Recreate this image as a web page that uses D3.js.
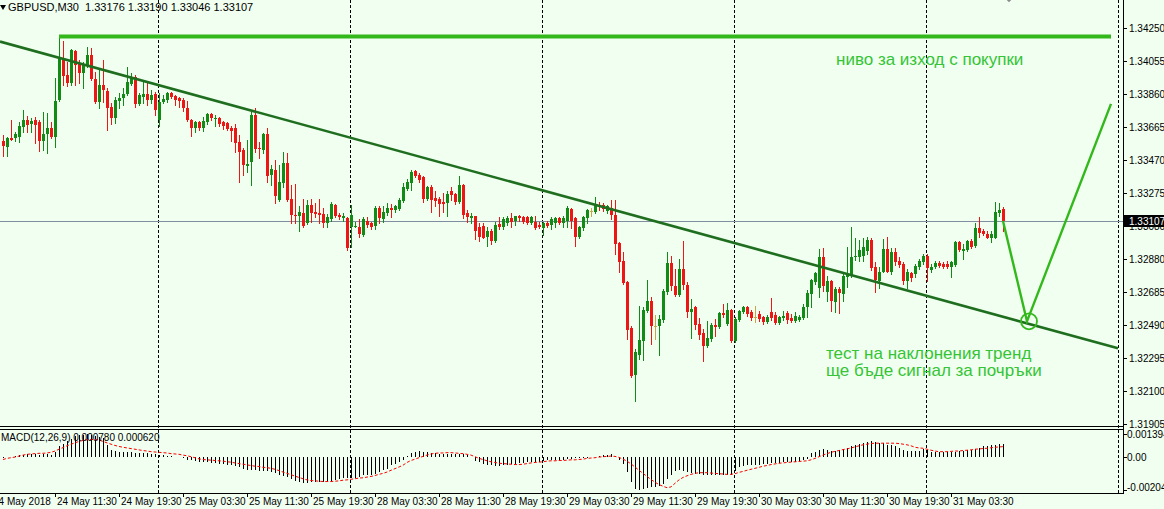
<!DOCTYPE html>
<html>
<head>
<meta charset="utf-8">
<script src="https://cdn.jsdelivr.net/npm/d3@7"></script>
<style>
html, body { margin: 0; padding: 0; background: #f0fff0; }
svg { display: block; font-family: "Liberation Sans", Arial, sans-serif; }
</style>
</head>
<body>
<svg id="chart" width="1164" height="509"></svg>
<script>
////////////////////////////////////////////////////////////////////////////////////
// Data - GBPUSD M30, one row of 10 bars per line
var symbolTitle = "GBPUSD,M30";
var opens = [
  1.33583,1.33547,1.33600,1.33600,1.33606,1.33665,1.33707,1.33683,1.33707,1.33695,
  1.33583,1.33624,1.33660,1.33606,1.33825,1.34073,1.33973,1.33925,1.34115,1.34038,
  1.33985,1.34032,1.34091,1.33949,1.33813,1.33914,1.33878,1.33784,1.33719,1.33819,
  1.33837,1.33860,1.33920,1.33961,1.33801,1.33843,1.33860,1.33825,1.33860,1.33707,
  1.33813,1.33825,1.33866,1.33849,1.33837,1.33825,1.33778,1.33707,1.33660,1.33695,
  1.33660,1.33695,1.33742,1.33713,1.33719,1.33695,1.33689,1.33660,1.33660,1.33577,
  1.33530,1.33435,1.33459,1.33736,1.33541,1.33530,1.33624,1.33382,1.33411,1.33234,
  1.33334,1.33453,1.33240,1.33145,1.33134,1.33157,1.33098,1.33204,1.33163,1.33157,
  1.33151,1.33098,1.33116,1.33204,1.33145,1.33122,1.33122,1.33074,1.33074,1.33074,
  1.33027,1.33110,1.33098,1.33080,1.33187,1.33116,1.33157,1.33187,1.33175,1.33181,
  1.33228,1.33299,1.33334,1.33405,1.33382,1.33370,1.33240,1.33311,1.33246,1.33240,
  1.33222,1.33216,1.33287,1.33269,1.33222,1.33323,1.33157,1.33122,1.33134,1.33074,
  1.33080,1.33015,1.33045,1.32986,1.33092,1.33074,1.33098,1.33122,1.33110,1.33139,
  1.33128,1.33128,1.33098,1.33104,1.33086,1.33063,1.33098,1.33086,1.33098,1.33122,
  1.33098,1.33110,1.33181,1.33122,1.33015,1.33063,1.33122,1.33169,1.33163,1.33204,
  1.33204,1.33169,1.33187,1.33145,1.32974,1.32873,1.32743,1.32472,1.32194,1.32312,
  1.32395,1.32572,1.32631,1.32486,1.32483,1.32519,1.32684,1.32856,1.32720,1.32667,
  1.32820,1.32726,1.32566,1.32596,1.32495,1.32442,1.32365,1.32407,1.32489,1.32478,
  1.32560,1.32495,1.32578,1.32395,1.32519,1.32566,1.32596,1.32566,1.32540,1.32554,
  1.32537,1.32507,1.32566,1.32548,1.32501,1.32531,1.32560,1.32531,1.32513,1.32519,
  1.32531,1.32596,1.32673,1.32743,1.32708,1.32891,1.32684,1.32749,1.32625,1.32702,
  1.32673,1.32773,1.32779,1.32891,1.32891,1.32897,1.32927,1.32992,1.32832,1.32749,
  1.32808,1.32944,1.32808,1.32921,1.32873,1.32850,1.32749,1.32797,1.32791,1.32832,
  1.32862,1.32897,1.32814,1.32832,1.32856,1.32850,1.32850,1.32832,1.32844,1.32980,
  1.32927,1.32938,1.32986,1.32962,1.33063,1.33045,1.33033,1.33009,1.33009,1.33157,
  1.33176];
var highs = [
  1.33618,1.33606,1.33707,1.33636,1.33695,1.33766,1.33730,1.33719,1.33725,1.33707,
  1.33754,1.33748,1.33695,1.33955,1.34210,1.34174,1.34050,1.34126,1.34120,1.34061,
  1.34050,1.34138,1.34132,1.33990,1.34014,1.34061,1.33896,1.33807,1.33843,1.33866,
  1.33896,1.34020,1.33985,1.33973,1.33866,1.33931,1.33925,1.33884,1.33872,1.33866,
  1.33855,1.33872,1.33872,1.33855,1.33843,1.33837,1.33819,1.33713,1.33701,1.33701,
  1.33725,1.33748,1.33748,1.33736,1.33725,1.33701,1.33695,1.33671,1.33683,1.33618,
  1.33541,1.33589,1.33754,1.33778,1.33577,1.33630,1.33660,1.33441,1.33470,1.33441,
  1.33518,1.33512,1.33323,1.33329,1.33193,1.33240,1.33234,1.33240,1.33216,1.33240,
  1.33187,1.33151,1.33222,1.33210,1.33157,1.33157,1.33128,1.33199,1.33104,1.33116,
  1.33128,1.33128,1.33104,1.33193,1.33193,1.33193,1.33216,1.33210,1.33199,1.33246,
  1.33334,1.33358,1.33411,1.33411,1.33394,1.33376,1.33317,1.33323,1.33287,1.33252,
  1.33275,1.33287,1.33311,1.33275,1.33376,1.33329,1.33175,1.33157,1.33139,1.33098,
  1.33098,1.33069,1.33057,1.33104,1.33128,1.33128,1.33134,1.33157,1.33139,1.33145,
  1.33134,1.33134,1.33134,1.33134,1.33104,1.33104,1.33110,1.33128,1.33128,1.33128,
  1.33139,1.33193,1.33187,1.33128,1.33080,1.33134,1.33181,1.33187,1.33252,1.33222,
  1.33216,1.33204,1.33234,1.33234,1.32980,1.32921,1.32749,1.32483,1.32348,1.32602,
  1.32596,1.32755,1.32655,1.32548,1.32548,1.32702,1.32921,1.32897,1.32820,1.32885,
  1.32986,1.32743,1.32643,1.32602,1.32531,1.32466,1.32513,1.32501,1.32525,1.32566,
  1.32613,1.32619,1.32584,1.32537,1.32578,1.32602,1.32602,1.32578,1.32602,1.32572,
  1.32543,1.32548,1.32649,1.32566,1.32543,1.32572,1.32572,1.32554,1.32566,1.32548,
  1.32613,1.32696,1.32761,1.32808,1.32944,1.32950,1.32779,1.32755,1.32714,1.32714,
  1.32797,1.32956,1.33069,1.33009,1.32992,1.33009,1.33015,1.33009,1.32862,1.32832,
  1.32998,1.33015,1.32950,1.32950,1.32891,1.32862,1.32820,1.32808,1.32850,1.32885,
  1.32909,1.32909,1.32850,1.32873,1.32868,1.32862,1.32873,1.32873,1.32986,1.32986,
  1.32968,1.32992,1.32998,1.33098,1.33128,1.33057,1.33045,1.33045,1.33222,1.33216,
  1.33190];
var lows = [
  1.33494,1.33494,1.33589,1.33583,1.33577,1.33636,1.33636,1.33636,1.33571,1.33524,
  1.33530,1.33512,1.33600,1.33547,1.33820,1.33914,1.33908,1.33914,1.33914,1.33925,
  1.33896,1.34020,1.33943,1.33807,1.33778,1.33813,1.33648,1.33683,1.33689,1.33778,
  1.33795,1.33855,1.33914,1.33784,1.33795,1.33807,1.33795,1.33807,1.33736,1.33671,
  1.33807,1.33813,1.33837,1.33795,1.33784,1.33760,1.33701,1.33612,1.33636,1.33648,
  1.33642,1.33683,1.33707,1.33671,1.33671,1.33654,1.33648,1.33583,1.33518,1.33340,
  1.33382,1.33400,1.33323,1.33518,1.33482,1.33512,1.33340,1.33323,1.33216,1.33228,
  1.33311,1.33228,1.33098,1.33098,1.33045,1.33069,1.33092,1.33104,1.33128,1.33098,
  1.33069,1.33069,1.33110,1.33130,1.33116,1.33110,1.32938,1.32956,1.33069,1.33015,
  1.33021,1.33074,1.33057,1.33057,1.33098,1.33104,1.33145,1.33128,1.33163,1.33175,
  1.33222,1.33293,1.33293,1.33370,1.33340,1.33222,1.33234,1.33163,1.33193,1.33139,
  1.33163,1.33134,1.33234,1.33210,1.33216,1.33122,1.33104,1.33098,1.32998,1.32986,
  1.33004,1.32962,1.32968,1.32980,1.33057,1.33057,1.33086,1.33074,1.33086,1.33110,
  1.33098,1.33092,1.33092,1.33057,1.33063,1.33027,1.33074,1.33057,1.33074,1.33092,
  1.33074,1.33074,1.33063,1.32962,1.33004,1.33051,1.33098,1.33139,1.33157,1.33175,
  1.33169,1.33157,1.33116,1.32909,1.32803,1.32732,1.32407,1.32182,1.32040,1.32288,
  1.32283,1.32566,1.32377,1.32407,1.32312,1.32507,1.32673,1.32696,1.32661,1.32661,
  1.32702,1.32537,1.32413,1.32466,1.32407,1.32277,1.32359,1.32395,1.32424,1.32472,
  1.32537,1.32489,1.32389,1.32389,1.32513,1.32560,1.32543,1.32519,1.32507,1.32513,
  1.32495,1.32501,1.32519,1.32495,1.32495,1.32519,1.32501,1.32507,1.32507,1.32513,
  1.32525,1.32537,1.32596,1.32732,1.32655,1.32690,1.32631,1.32572,1.32566,1.32560,
  1.32631,1.32714,1.32773,1.32879,1.32868,1.32868,1.32909,1.32814,1.32684,1.32708,
  1.32803,1.32803,1.32791,1.32844,1.32832,1.32732,1.32708,1.32749,1.32773,1.32820,
  1.32850,1.32749,1.32808,1.32826,1.32832,1.32826,1.32826,1.32773,1.32838,1.32927,
  1.32885,1.32927,1.32950,1.32956,1.33015,1.33027,1.33004,1.32980,1.33004,1.33134,
  1.33046];
var closes = [
  1.33553,1.33600,1.33589,1.33624,1.33671,1.33707,1.33677,1.33701,1.33677,1.33583,
  1.33624,1.33660,1.33606,1.33819,1.34073,1.33967,1.33925,1.34120,1.34032,1.33985,
  1.34032,1.34091,1.33949,1.33813,1.33914,1.33884,1.33778,1.33719,1.33825,1.33837,
  1.33860,1.33931,1.33961,1.33801,1.33855,1.33860,1.33825,1.33855,1.33766,1.33813,
  1.33831,1.33866,1.33843,1.33825,1.33819,1.33778,1.33707,1.33660,1.33695,1.33660,
  1.33701,1.33742,1.33719,1.33719,1.33683,1.33671,1.33654,1.33642,1.33571,1.33518,
  1.33441,1.33447,1.33736,1.33535,1.33535,1.33624,1.33376,1.33417,1.33258,1.33340,
  1.33453,1.33234,1.33145,1.33134,1.33163,1.33080,1.33199,1.33157,1.33151,1.33145,
  1.33098,1.33128,1.33210,1.33134,1.33128,1.33139,1.32950,1.33145,1.33080,1.33033,
  1.33116,1.33086,1.33069,1.33187,1.33122,1.33163,1.33187,1.33175,1.33193,1.33234,
  1.33311,1.33340,1.33400,1.33376,1.33352,1.33240,1.33311,1.33234,1.33228,1.33210,
  1.33210,1.33269,1.33264,1.33222,1.33323,1.33145,1.33128,1.33134,1.33045,1.33015,
  1.33009,1.33045,1.32986,1.33086,1.33069,1.33116,1.33122,1.33104,1.33134,1.33122,
  1.33104,1.33098,1.33128,1.33063,1.33074,1.33098,1.33080,1.33116,1.33122,1.33098,
  1.33122,1.33187,1.33110,1.33015,1.33074,1.33128,1.33175,1.33169,1.33204,1.33193,
  1.33181,1.33193,1.33145,1.32968,1.32862,1.32738,1.32460,1.32188,1.32330,1.32401,
  1.32578,1.32631,1.32483,1.32486,1.32525,1.32690,1.32856,1.32720,1.32667,1.32820,
  1.32726,1.32566,1.32584,1.32489,1.32430,1.32365,1.32413,1.32489,1.32478,1.32560,
  1.32548,1.32578,1.32395,1.32525,1.32572,1.32596,1.32554,1.32531,1.32540,1.32525,
  1.32507,1.32537,1.32531,1.32501,1.32537,1.32543,1.32519,1.32513,1.32543,1.32537,
  1.32596,1.32678,1.32755,1.32797,1.32891,1.32720,1.32749,1.32631,1.32702,1.32678,
  1.32779,1.32785,1.32891,1.32897,1.32933,1.32956,1.32992,1.32826,1.32755,1.32808,
  1.32944,1.32808,1.32921,1.32862,1.32844,1.32749,1.32808,1.32767,1.32838,1.32868,
  1.32897,1.32826,1.32832,1.32856,1.32838,1.32832,1.32832,1.32862,1.32980,1.32933,
  1.32944,1.32986,1.32956,1.33063,1.33039,1.33033,1.33009,1.33033,1.33163,1.33175,
  1.33107];

// MACD(12,26,9): histogram (main) and signal line
var macdMain = [
  -0.00005,-0.00003,0.00000,0.00003,0.00008,0.00013,0.00015,0.00017,0.00017,0.00013,
  0.00015,0.00015,0.00013,0.00030,0.00063,0.00080,0.00094,0.00110,0.00125,0.00133,
  0.00136,0.00139,0.00135,0.00130,0.00122,0.00112,0.00073,0.00042,0.00036,0.00031,
  0.00031,0.00027,0.00027,0.00025,0.00023,0.00021,0.00021,0.00019,0.00015,0.00010,
  0.00008,0.00005,0.00003,-0.00002,-0.00004,-0.00008,-0.00017,-0.00021,-0.00027,-0.00031,
  -0.00035,-0.00035,-0.00038,-0.00040,-0.00042,-0.00044,-0.00048,-0.00052,-0.00056,-0.00063,
  -0.00073,-0.00083,-0.00083,-0.00083,-0.00085,-0.00088,-0.00090,-0.00094,-0.00100,-0.00110,
  -0.00119,-0.00125,-0.00135,-0.00146,-0.00152,-0.00160,-0.00160,-0.00156,-0.00156,-0.00156,
  -0.00156,-0.00152,-0.00152,-0.00142,-0.00135,-0.00131,-0.00133,-0.00133,-0.00133,-0.00125,
  -0.00115,-0.00115,-0.00110,-0.00104,-0.00094,-0.00083,-0.00073,-0.00052,-0.00042,-0.00031,
  -0.00021,0.00002,0.00021,0.00027,0.00035,0.00031,0.00027,0.00021,0.00021,0.00019,
  0.00015,0.00015,0.00015,0.00015,0.00015,0.00015,0.00010,0.00000,-0.00027,-0.00031,
  -0.00042,-0.00048,-0.00052,-0.00056,-0.00056,-0.00052,-0.00048,-0.00044,-0.00042,-0.00040,
  -0.00038,-0.00035,-0.00031,-0.00031,-0.00031,-0.00027,-0.00021,-0.00021,-0.00019,-0.00019,
  -0.00017,-0.00015,-0.00015,-0.00010,-0.00010,-0.00006,-0.00006,-0.00002,0.00000,0.00006,
  0.00010,0.00010,0.00015,0.00006,-0.00021,-0.00042,-0.00094,-0.00156,-0.00200,-0.00204,
  -0.00198,-0.00190,-0.00188,-0.00185,-0.00177,-0.00167,-0.00135,-0.00115,-0.00090,-0.00083,
  -0.00090,-0.00094,-0.00098,-0.00104,-0.00104,-0.00110,-0.00110,-0.00115,-0.00115,-0.00110,
  -0.00110,-0.00110,-0.00110,-0.00090,-0.00063,-0.00056,-0.00052,-0.00052,-0.00048,-0.00048,
  -0.00044,-0.00042,-0.00040,-0.00038,-0.00038,-0.00035,-0.00031,-0.00031,-0.00031,-0.00027,
  -0.00023,-0.00015,0.00021,0.00027,0.00042,0.00048,0.00042,0.00035,0.00035,0.00042,
  0.00048,0.00052,0.00063,0.00069,0.00077,0.00083,0.00090,0.00094,0.00090,0.00083,
  0.00083,0.00073,0.00069,0.00063,0.00052,0.00042,0.00035,0.00035,0.00035,0.00035,
  0.00048,0.00042,0.00031,0.00027,0.00027,0.00027,0.00031,0.00031,0.00031,0.00035,
  0.00035,0.00042,0.00042,0.00048,0.00056,0.00063,0.00063,0.00069,0.00073,0.00077,
  0.00078];
var macdSignal = [
  -0.00017,-0.00010,-0.00006,-0.00002,0.00004,0.00010,0.00015,0.00017,0.00019,0.00021,
  0.00021,0.00023,0.00027,0.00035,0.00046,0.00056,0.00067,0.00077,0.00085,0.00094,
  0.00100,0.00104,0.00106,0.00106,0.00102,0.00094,0.00085,0.00077,0.00069,0.00063,
  0.00058,0.00054,0.00050,0.00046,0.00042,0.00038,0.00035,0.00031,0.00029,0.00027,
  0.00025,0.00023,0.00019,0.00017,0.00015,0.00010,0.00006,0.00000,-0.00006,-0.00013,
  -0.00017,-0.00019,-0.00021,-0.00023,-0.00025,-0.00027,-0.00031,-0.00033,-0.00038,-0.00042,
  -0.00046,-0.00050,-0.00054,-0.00058,-0.00060,-0.00065,-0.00067,-0.00071,-0.00077,-0.00085,
  -0.00094,-0.00102,-0.00110,-0.00119,-0.00127,-0.00135,-0.00142,-0.00146,-0.00148,-0.00150,
  -0.00152,-0.00152,-0.00152,-0.00150,-0.00148,-0.00144,-0.00142,-0.00138,-0.00135,-0.00131,
  -0.00129,-0.00125,-0.00121,-0.00115,-0.00108,-0.00102,-0.00094,-0.00083,-0.00073,-0.00063,
  -0.00052,-0.00035,-0.00023,-0.00015,-0.00006,0.00002,0.00010,0.00017,0.00021,0.00023,
  0.00023,0.00025,0.00025,0.00023,0.00021,0.00019,0.00015,0.00010,0.00000,-0.00010,
  -0.00017,-0.00025,-0.00031,-0.00035,-0.00040,-0.00042,-0.00044,-0.00046,-0.00048,-0.00048,
  -0.00046,-0.00042,-0.00038,-0.00035,-0.00033,-0.00031,-0.00027,-0.00025,-0.00025,-0.00023,
  -0.00023,-0.00021,-0.00019,-0.00019,-0.00017,-0.00015,-0.00010,-0.00008,-0.00006,-0.00002,
  0.00000,0.00002,0.00004,0.00002,-0.00004,-0.00015,-0.00027,-0.00044,-0.00063,-0.00083,
  -0.00102,-0.00121,-0.00140,-0.00156,-0.00171,-0.00181,-0.00190,-0.00185,-0.00163,-0.00142,
  -0.00127,-0.00117,-0.00108,-0.00102,-0.00098,-0.00098,-0.00098,-0.00100,-0.00102,-0.00104,
  -0.00106,-0.00108,-0.00108,-0.00104,-0.00096,-0.00090,-0.00083,-0.00077,-0.00071,-0.00065,
  -0.00058,-0.00054,-0.00048,-0.00044,-0.00040,-0.00038,-0.00035,-0.00033,-0.00031,-0.00029,
  -0.00027,-0.00025,-0.00019,-0.00010,0.00000,0.00010,0.00019,0.00027,0.00033,0.00038,
  0.00044,0.00048,0.00054,0.00060,0.00067,0.00073,0.00077,0.00081,0.00083,0.00083,
  0.00083,0.00083,0.00083,0.00083,0.00081,0.00077,0.00073,0.00067,0.00058,0.00054,
  0.00052,0.00046,0.00040,0.00035,0.00031,0.00031,0.00031,0.00033,0.00035,0.00035,
  0.00038,0.00040,0.00042,0.00046,0.00048,0.00050,0.00052,0.00055,0.00058,0.00060,
  0.00062];
var macdLabel = "MACD(12,26,9) 0.000780 0.000620";
var macdRange = [-0.002040, 0.001394];

// Axes
var priceTicks = [1.34250, 1.34055, 1.33860, 1.33665, 1.33470, 1.33275, 1.33080,
                  1.32880, 1.32685, 1.32490, 1.32295, 1.32100, 1.31905];
var timeTickBars = [-3, 13, 29, 45, 61, 77, 93, 109, 125, 141, 157, 173, 189, 205, 221, 237];
var timeTickLabels = ["24 May 2018", "24 May 11:30", "24 May 19:30", "25 May 03:30", "25 May 11:30",
                      "25 May 19:30", "28 May 03:30", "28 May 11:30", "28 May 19:30", "29 May 03:30",
                      "29 May 11:30", "29 May 19:30", "30 May 03:30", "30 May 11:30", "30 May 19:30",
                      "31 May 03:30"];
var gridBars = [38.75, 86.75, 134.75, 182.75, 230.75, 278.75];

// Drawn objects (bar index / price anchors)
var levelLine = { bar1: 14, bar2: 277, price: 1.34200 };
var trendLine = [{ bar: 0, price: 1.34165 }, { bar: 250, price: 1.32540 }];
var forecastPath = [{ bar: 250, price: 1.33107 }, { bar: 256, price: 1.32513 }, { bar: 277, price: 1.33801 }];
var testCircle = { bar: 256.5, price: 1.32513 };
var notes = [
  { text: "ниво за изход с покупки", bar: 208.25, price: 1.34032 },
  { text: "тест на наклонения тренд", bar: 205.75, price: 1.32288 },
  { text: "ще бъде сигнал за почръки", bar: 205.75, price: 1.32188 }
];

////////////////////////////////////////////////////////////////////////////////////
var svg = d3.select("#chart");
var W = 1164, H = 509;
var axisX = 1123, mainBottom = 426, macdTop = 429, macdBottom = 493;

// Colors
var bg = "#f0fff0";
var bullColor = "#118a16";
var bearColor = "#ee1515";
var dojiColor = "#c8a648";
var limeLine = "#33b81c";
var trendColor = "#1f6e1f";
var noteColor = "#35c435";

// Scales
var xBar = d3.scaleLinear().domain([0, 250]).range([3, 1003]);
var yPrice = d3.scaleLinear().domain([1.31905, 1.34250]).range([424, 28]);
var yMacd = d3.scaleLinear().domain(macdRange).range([490, 434]);

svg.append("rect").attr("width", W).attr("height", H).attr("fill", bg);

var defs = svg.append("defs");
defs.append("clipPath").attr("id", "clipMain")
    .append("rect").attr("x", 0).attr("y", 0).attr("width", axisX).attr("height", mainBottom);
defs.append("clipPath").attr("id", "clipMacd")
    .append("rect").attr("x", 0).attr("y", macdTop + 1).attr("width", axisX).attr("height", macdBottom - macdTop - 1);

// Vertical dashed grid
svg.append("g")
   .selectAll("line")
   .data(gridBars)
   .enter()
   .append("line")
   .attr("x1", function(d) { return Math.round(xBar(d)) + 0.5; })
   .attr("x2", function(d) { return Math.round(xBar(d)) + 0.5; })
   .attr("y1", 0)
   .attr("y2", macdBottom)
   .attr("stroke", "#000")
   .attr("stroke-width", 1)
   .attr("stroke-dasharray", "3,2");

var main = svg.append("g").attr("clip-path", "url(#clipMain)");

// Bid line
var lastPrice = closes[closes.length - 1];
main.append("line")
    .attr("x1", 0).attr("x2", axisX)
    .attr("y1", Math.round(yPrice(lastPrice)) + 0.5)
    .attr("y2", Math.round(yPrice(lastPrice)) + 0.5)
    .attr("stroke", "#7f8fa0").attr("stroke-width", 1);

// Candles
var candles = opens.map(function(o, i) {
  return { i: i, o: o, h: highs[i], l: lows[i], c: closes[i] };
});
function candleColor(d) {
  if (d.c > d.o) { return bullColor; }
  else if (d.c < d.o) { return bearColor; }
  else { return dojiColor; }
}
var cg = main.append("g").attr("shape-rendering", "crispEdges");
cg.selectAll(".wick")
  .data(candles)
  .enter()
  .append("line")
  .attr("class", "wick")
  .attr("x1", function(d) { return Math.round(xBar(d.i)) + 0.5; })
  .attr("x2", function(d) { return Math.round(xBar(d.i)) + 0.5; })
  .attr("y1", function(d) { return Math.round(yPrice(d.h)); })
  .attr("y2", function(d) { return Math.round(yPrice(d.l)) + 1; })
  .attr("stroke", candleColor)
  .attr("stroke-width", 1);
cg.selectAll(".body")
  .data(candles)
  .enter()
  .append("rect")
  .attr("class", "body")
  .attr("x", function(d) { return Math.round(xBar(d.i)) - 1; })
  .attr("width", 3)
  .attr("y", function(d) { return Math.round(yPrice(Math.max(d.o, d.c))); })
  .attr("height", function(d) {
    return Math.max(1, Math.round(yPrice(Math.min(d.o, d.c))) - Math.round(yPrice(Math.max(d.o, d.c))));
  })
  .attr("fill", candleColor);

// Level line
main.append("line")
    .attr("x1", xBar(levelLine.bar1)).attr("x2", xBar(levelLine.bar2))
    .attr("y1", yPrice(levelLine.price)).attr("y2", yPrice(levelLine.price))
    .attr("stroke", limeLine).attr("stroke-width", 4);

// Trend line extended over the whole plot
var tSlope = (trendLine[1].price - trendLine[0].price) / (trendLine[1].bar - trendLine[0].bar);
function trendAt(b) { return trendLine[0].price + tSlope * (b - trendLine[0].bar); }
var bLeft = xBar.invert(0), bRight = xBar.invert(1118);
main.append("line")
    .attr("x1", xBar(bLeft)).attr("y1", yPrice(trendAt(bLeft)))
    .attr("x2", xBar(bRight)).attr("y2", yPrice(trendAt(bRight)))
    .attr("stroke", trendColor).attr("stroke-width", 2.6);

// Forecast path and circle
var pathLine = d3.line()
                 .x(function(d) { return xBar(d.bar); })
                 .y(function(d) { return yPrice(d.price); });
main.append("path")
    .attr("d", pathLine(forecastPath))
    .attr("fill", "none")
    .attr("stroke", limeLine).attr("stroke-width", 2.4)
    .attr("stroke-linejoin", "miter");
main.append("circle")
    .attr("cx", xBar(testCircle.bar)).attr("cy", yPrice(testCircle.price))
    .attr("r", 8)
    .attr("fill", "none").attr("stroke", limeLine).attr("stroke-width", 1.8);

// Small grey marker at the top edge
main.append("path")
    .attr("d", "M" + (xBar(251.5)) + "," + (yPrice(1.34432) - 5) + " l5,5 l-5,5 l-5,-5 z")
    .attr("fill", "#8c8c8c");

// Notes
main.selectAll(".note")
    .data(notes)
    .enter()
    .append("text")
    .attr("class", "note")
    .attr("x", function(d) { return xBar(d.bar); })
    .attr("y", function(d) { return yPrice(d.price); })
    .attr("font-size", "17px")
    .attr("fill", noteColor)
    .text(function(d) { return d.text; });

// Header
svg.append("path").attr("d", "M0,5 L6,5 L3,10 Z").attr("fill", "#000");
svg.append("text")
   .attr("x", 8).attr("y", 11)
   .attr("font-size", "11px").attr("fill", "#000")
   .attr("xml:space", "preserve")
   .text(symbolTitle + "  " + [opens[250], highs[250], lows[250], closes[250]].map(function(v) { return v.toFixed(5); }).join(" "));

// MACD panel
var mg = svg.append("g").attr("clip-path", "url(#clipMacd)");
mg.append("g")
  .attr("shape-rendering", "crispEdges")
  .selectAll("line")
  .data(macdMain)
  .enter()
  .append("line")
  .attr("x1", function(d, i) { return Math.round(xBar(i)) + 0.5; })
  .attr("x2", function(d, i) { return Math.round(xBar(i)) + 0.5; })
  .attr("y1", Math.round(yMacd(0)))
  .attr("y2", function(d) { return Math.round(yMacd(d)); })
  .attr("stroke", "#000").attr("stroke-width", 1);
var sigLine = d3.line()
                .x(function(d, i) { return xBar(i); })
                .y(function(d) { return yMacd(d); });
mg.append("path")
  .attr("d", sigLine(macdSignal))
  .attr("fill", "none")
  .attr("stroke", "#ff0000").attr("stroke-width", 1)
  .attr("stroke-dasharray", "3,2");
svg.append("text")
   .attr("x", 1).attr("y", 441)
   .attr("font-size", "10px").attr("fill", "#000")
   .text(macdLabel);

// Panel borders
var borders = svg.append("g").attr("stroke", "#000").attr("stroke-width", 1).attr("shape-rendering", "crispEdges");
[mainBottom, macdTop, macdBottom].forEach(function(y) {
  borders.append("line").attr("x1", 0).attr("x2", axisX + 1).attr("y1", y + 0.5).attr("y2", y + 0.5);
});
borders.append("line").attr("x1", axisX + 0.5).attr("x2", axisX + 0.5).attr("y1", 0).attr("y2", macdBottom + 1);

// Price axis
var pa = svg.append("g");
priceTicks.forEach(function(p) {
  var y = Math.round(yPrice(p));
  pa.append("line").attr("x1", axisX + 1).attr("x2", axisX + 4)
    .attr("y1", y + 0.5).attr("y2", y + 0.5).attr("stroke", "#000").attr("shape-rendering", "crispEdges");
  pa.append("text").attr("x", axisX + 6).attr("y", y + 4)
    .attr("font-size", "10px").attr("fill", "#000").text(p.toFixed(5));
});
// Bid label
var by = Math.round(yPrice(lastPrice));
pa.append("rect").attr("x", axisX + 1).attr("y", by - 6).attr("width", W - axisX).attr("height", 12).attr("fill", "#000");
pa.append("text").attr("x", axisX + 6).attr("y", by + 4)
  .attr("font-size", "10px").attr("fill", "#fff").text(lastPrice.toFixed(5));

// MACD axis
[{ v: macdRange[1], t: "0.001394", dy: 4 }, { v: 0, t: "0.00", dy: 4 }, { v: macdRange[0], t: "-0.002040", dy: 1 }].forEach(function(d) {
  var y = Math.round(yMacd(d.v));
  pa.append("line").attr("x1", axisX + 1).attr("x2", axisX + 4)
    .attr("y1", y + 0.5).attr("y2", y + 0.5).attr("stroke", "#000").attr("shape-rendering", "crispEdges");
  pa.append("text").attr("x", axisX + 4).attr("y", y + d.dy)
    .attr("font-size", "10px").attr("fill", "#000").text(d.t);
});

// Time axis
var ta = svg.append("g");
timeTickBars.forEach(function(b, k) {
  var x = Math.round(xBar(b));
  ta.append("line").attr("x1", x + 0.5).attr("x2", x + 0.5).attr("y1", macdBottom + 1).attr("y2", macdBottom + 4)
    .attr("stroke", "#000").attr("shape-rendering", "crispEdges");
  ta.append("text").attr("x", x + 2).attr("y", 505)
    .attr("font-size", "10px").attr("fill", "#000").text(timeTickLabels[k]);
});
</script>
</body>
</html>
